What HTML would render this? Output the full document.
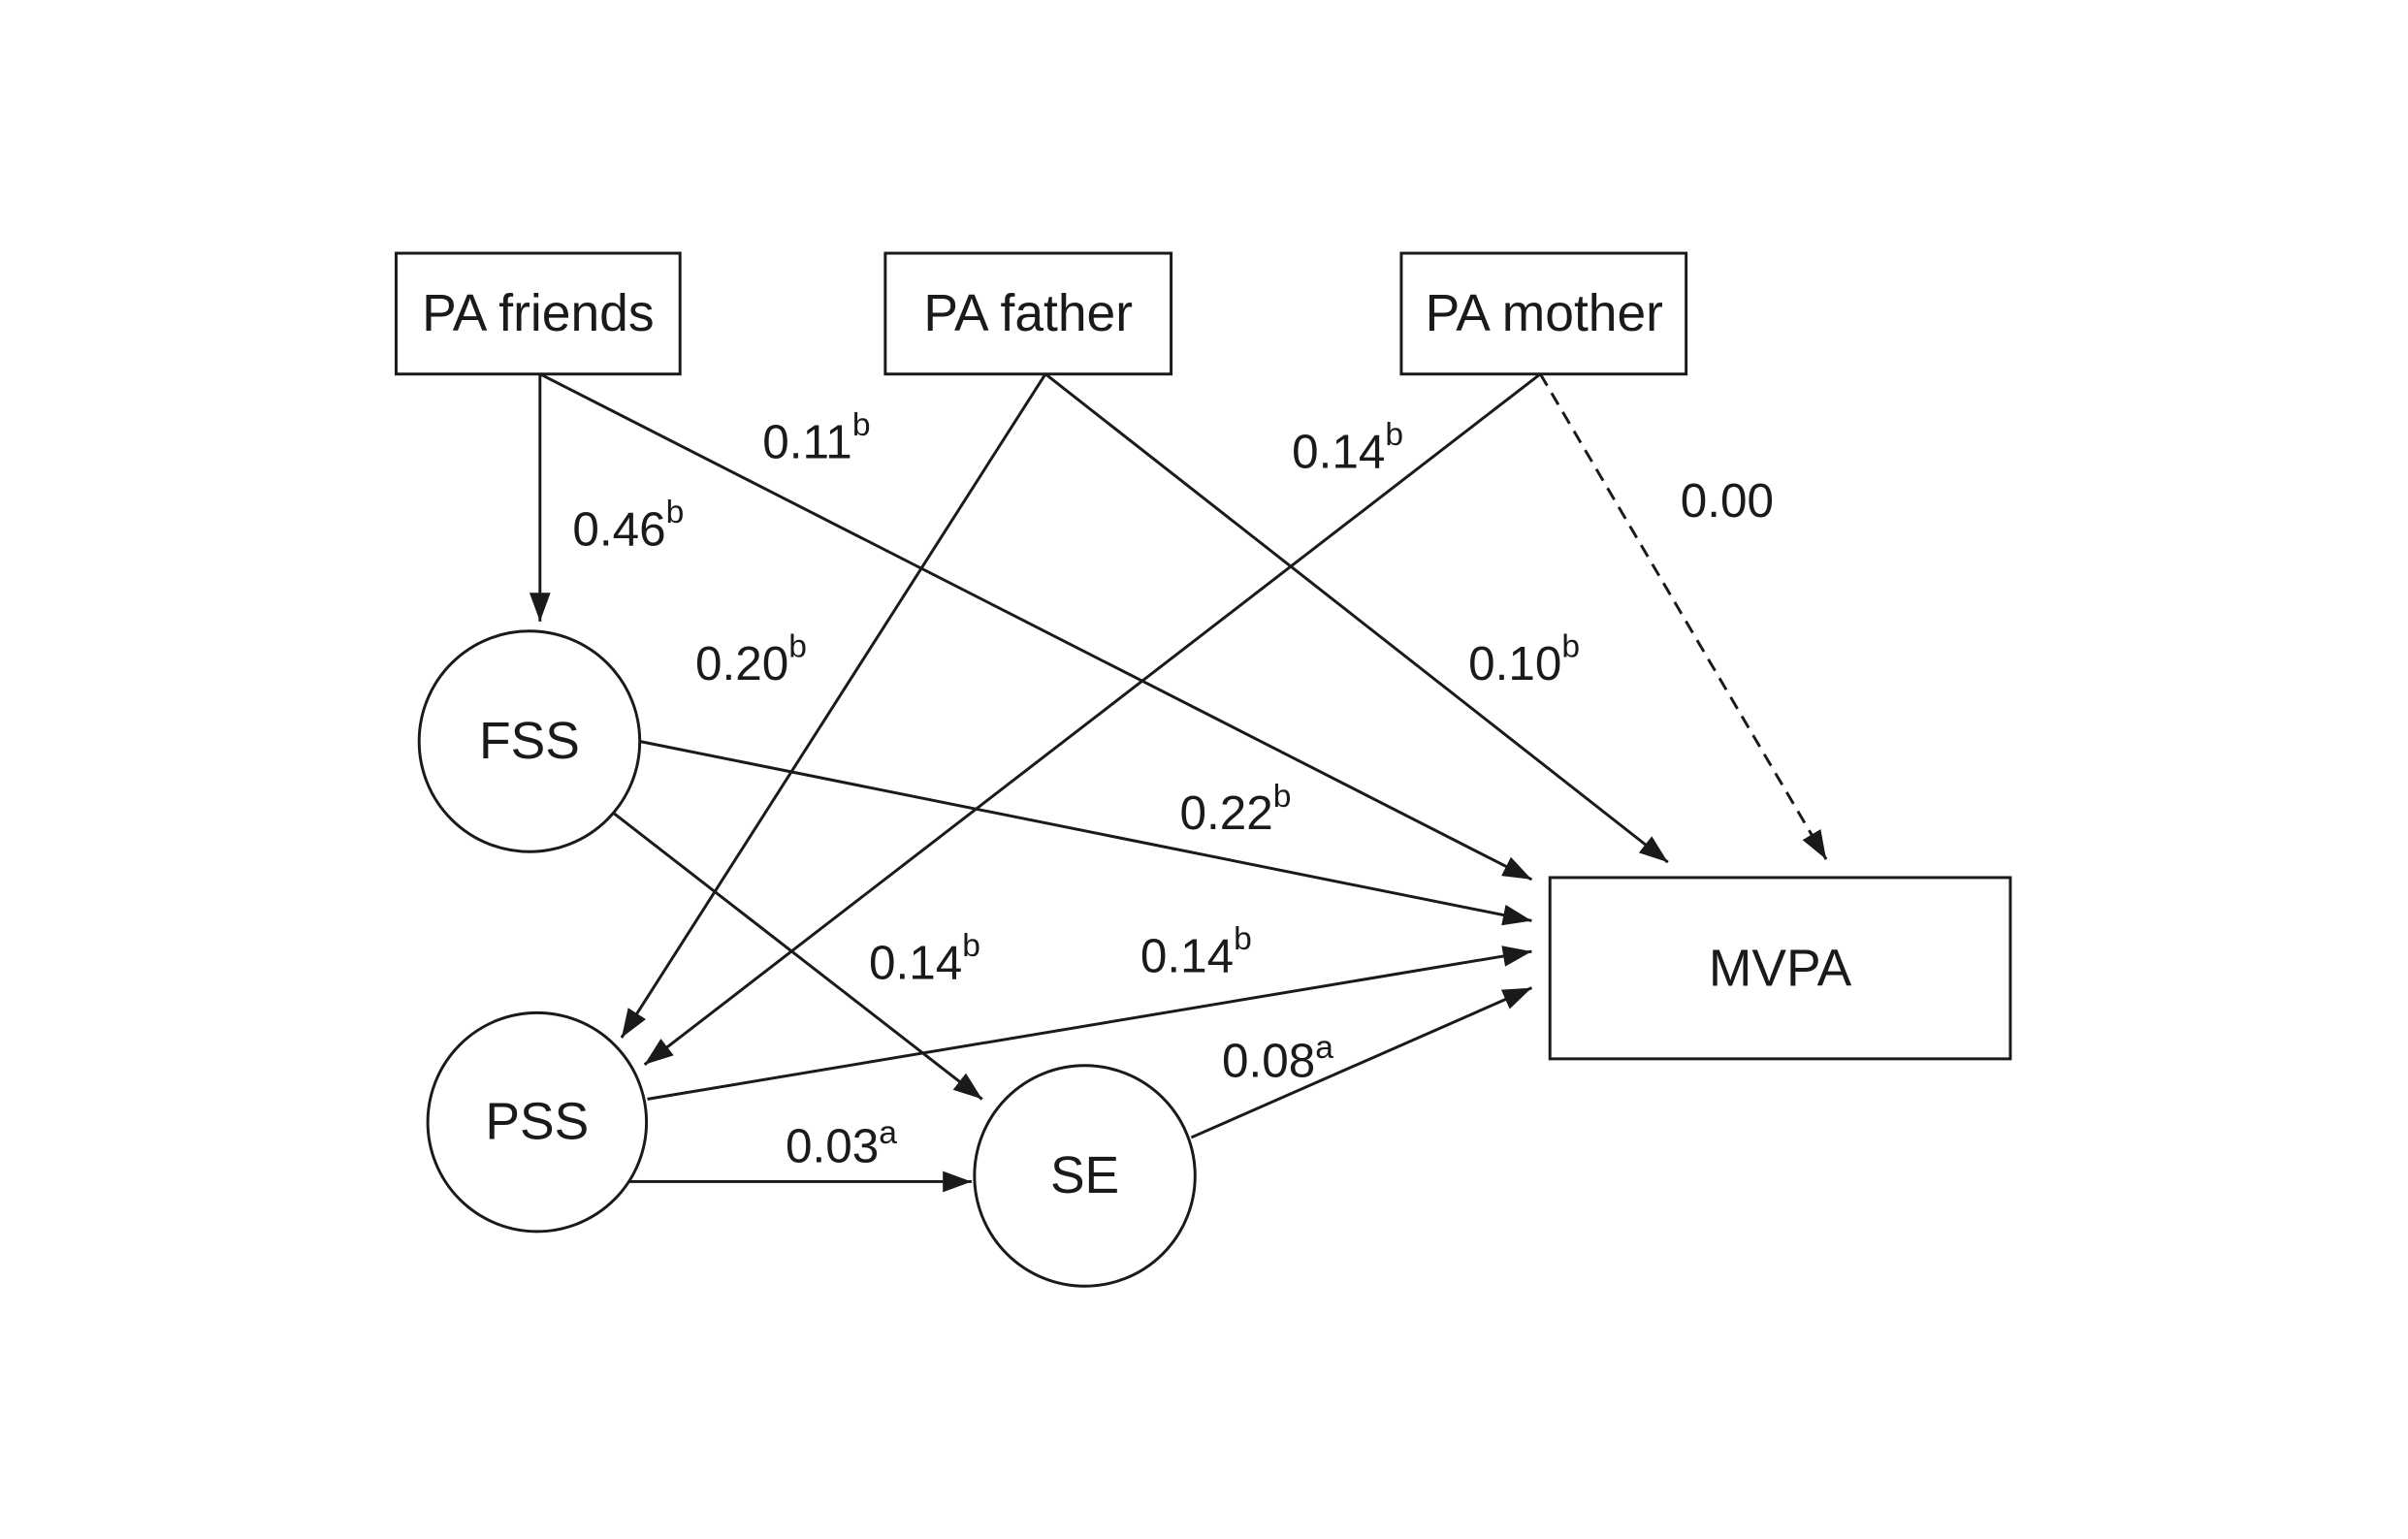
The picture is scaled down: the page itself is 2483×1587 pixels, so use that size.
<!DOCTYPE html>
<html><head><meta charset="utf-8"><style>
html,body{margin:0;padding:0;background:#fff;}
svg{display:block;}
text{font-family:"Liberation Sans",sans-serif;fill:#1a1a1a;}
</style></head><body>
<svg width="2483" height="1587" viewBox="0 0 2483 1587" xmlns="http://www.w3.org/2000/svg">
<defs>
<marker id="b" viewBox="0 0 10 10" refX="10" refY="5" markerWidth="30" markerHeight="22" markerUnits="userSpaceOnUse" orient="auto" preserveAspectRatio="none">
<path d="M0,0 L10,5 L0,10 z" fill="#1a1a1a"/>
</marker>
</defs>
<g transform="scale(0.989)">
<g stroke="#1a1a1a" stroke-width="3" fill="none">
<rect x="413" y="264" width="296" height="126"/>
<rect x="923" y="264" width="298" height="126"/>
<rect x="1461" y="264" width="297" height="126"/>
<rect x="1616" y="915" width="480" height="189"/>
<circle cx="552" cy="773" r="115"/>
<circle cx="560" cy="1170" r="114"/>
<circle cx="1131" cy="1226" r="115"/>
<g marker-end="url(#b)">
<line x1="563" y1="390" x2="563" y2="648"/>
<line x1="563" y1="390" x2="1597" y2="917"/>
<line x1="1090" y1="390" x2="648" y2="1082"/>
<line x1="1090" y1="390" x2="1739" y2="899"/>
<line x1="1606" y1="390" x2="672" y2="1110"/>
<line x1="1606" y1="390" x2="1904" y2="896" stroke-dasharray="14,9"/>
<line x1="667" y1="773" x2="1597" y2="960"/>
<line x1="640" y1="848" x2="1024" y2="1146"/>
<line x1="675" y1="1146" x2="1597" y2="992"/>
<line x1="656" y1="1232" x2="1013" y2="1232"/>
<line x1="1242" y1="1186" x2="1597" y2="1030"/>
</g>
</g>
<g font-size="54" text-anchor="middle" dominant-baseline="central">
<text x="561" y="327">PA friends</text>
<text x="1072" y="327">PA father</text>
<text x="1610" y="327">PA mother</text>
<text x="552" y="773">FSS</text>
<text x="560" y="1170">PSS</text>
<text x="1131" y="1226">SE</text>
<text x="1856" y="1010">MVPA</text>
</g>
<g font-size="50" dominant-baseline="central">
<text x="795" y="461">0.11<tspan font-size="34" dy="-18">b</tspan></text>
<text x="597" y="552">0.46<tspan font-size="34" dy="-18">b</tspan></text>
<text x="1347" y="471">0.14<tspan font-size="34" dy="-18">b</tspan></text>
<text x="1752" y="522">0.00</text>
<text x="725" y="692">0.20<tspan font-size="34" dy="-18">b</tspan></text>
<text x="1531" y="692">0.10<tspan font-size="34" dy="-18">b</tspan></text>
<text x="1230" y="848">0.22<tspan font-size="34" dy="-18">b</tspan></text>
<text x="906" y="1004">0.14<tspan font-size="34" dy="-18">b</tspan></text>
<text x="1189" y="997">0.14<tspan font-size="34" dy="-18">b</tspan></text>
<text x="1274" y="1106">0.08<tspan font-size="34" dy="-14">a</tspan></text>
<text x="819" y="1195">0.03<tspan font-size="34" dy="-14">a</tspan></text>
</g>
</g>
</svg>
</body></html>
